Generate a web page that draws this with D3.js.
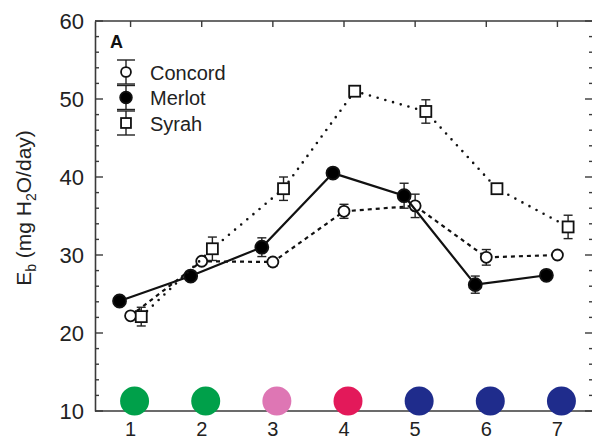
<!DOCTYPE html>
<html>
<head>
<meta charset="utf-8">
<script src="https://cdn.jsdelivr.net/npm/d3@7"></script>
<style>
  body { margin: 0; background: #fff; }
  svg { display: block; font-family: "Liberation Sans", Arial, Helvetica, sans-serif; }
</style>
</head>
<body>
<svg id="svg" width="592" height="441"></svg>
<script>
//Chart data
var stages = [1, 2, 3, 4, 5, 6, 7];
var stageColors = ["#00a04a", "#00a04a", "#de76b4", "#e3195a", "#1f2c8c", "#1f2c8c", "#1f2c8c"];
var yTicks = [10, 20, 30, 40, 50, 60];

var concord = [22.2, 29.2, 29.1, 35.6, 36.3, 29.7, 30.0];
var concordErr = [0.3, 0.4, 0.5, 0.9, 1.5, 1.0, 0.4];
var merlot = [24.1, 27.3, 31.0, 40.5, 37.6, 26.2, 27.4];
var merlotErr = [0.3, 0.3, 1.2, 0.3, 1.6, 1.1, 0.3];
var syrah = [22.1, 30.8, 38.5, 51.0, 48.4, 38.5, 33.6];
var syrahErr = [1.2, 1.5, 1.5, 0.6, 1.5, 0.4, 1.5];

var seriesNames = ["Concord", "Merlot", "Syrah"];

var series = [
  {name: seriesNames[0], values: concord, err: concordErr, dodge: 0, marker: "circle", fill: "#fff", dash: "4,4", cap: "butt"},
  {name: seriesNames[1], values: merlot, err: merlotErr, dodge: -0.155, marker: "dot", fill: "#000", dash: null, cap: "butt"},
  {name: seriesNames[2], values: syrah, err: syrahErr, dodge: 0.15, marker: "square", fill: "#fff", dash: "0,8", cap: "round"}
];

var svg = d3.select("#svg");
var x = d3.scaleLinear().domain([0.5, 7.5]).range([95, 593]);
var y = d3.scaleLinear().domain([10, 60]).range([411, 21]);
var axisColor = "#3a3a3a";

//Frame: left, bottom, top (right side falls off the canvas)
svg.append("g")
  .attr("transform", "translate(" + x(0.5) + ",0)")
  .call(d3.axisLeft(y).tickValues(yTicks).tickSize(0).tickPadding(11).tickFormat(d3.format("d")))
  .call(g => g.select(".domain").attr("stroke", axisColor).attr("stroke-width", 1.6))
  .call(g => g.selectAll("text").attr("font-size", 22).attr("fill", "#222").attr("font-family", null));

svg.append("line")
  .attr("x1", x(0.5)).attr("x2", x(7.5))
  .attr("y1", y(10)).attr("y2", y(10))
  .attr("stroke", axisColor).attr("stroke-width", 1.6);
svg.append("line")
  .attr("x1", x(0.5)).attr("x2", x(7.5))
  .attr("y1", y(60)).attr("y2", y(60))
  .attr("stroke", axisColor).attr("stroke-width", 1.6);

//Inward ticks on the left and right sides
var minorTicks = d3.range(10, 61, 2);
[x(0.5), x(7.5)].forEach(function(px, side) {
  var dir = side === 0 ? 1 : -1;
  svg.append("g").selectAll("line")
    .data(minorTicks)
    .join("line")
    .attr("x1", px)
    .attr("x2", d => px + dir * (d % 10 === 0 ? 8 : 4))
    .attr("y1", d => y(d)).attr("y2", d => y(d))
    .attr("stroke", axisColor).attr("stroke-width", 1.4);
});

//Top ticks
svg.append("g").selectAll("line")
  .data(stages)
  .join("line")
  .attr("x1", d => x(d)).attr("x2", d => x(d))
  .attr("y1", y(60)).attr("y2", y(60) + 6)
  .attr("stroke", axisColor).attr("stroke-width", 1.4);

//Bottom tick labels
svg.append("g").selectAll("text")
  .data(stages)
  .join("text")
  .attr("x", d => x(d))
  .attr("y", 436)
  .attr("text-anchor", "middle")
  .attr("font-size", 20)
  .attr("fill", "#222")
  .text(d => d);

//Stage colour dots
svg.append("g").selectAll("circle")
  .data(stages)
  .join("circle")
  .attr("cx", d => x(d) + 4)
  .attr("cy", 401)
  .attr("r", 14.5)
  .attr("fill", (d, i) => stageColors[i]);

//Y axis title
var title = svg.append("text")
  .attr("transform", "translate(31,208) rotate(-90)")
  .attr("text-anchor", "middle")
  .attr("font-size", 21)
  .attr("fill", "#222");
title.append("tspan").text("E");
title.append("tspan").attr("font-size", 14).attr("dy", 5).text("b");
title.append("tspan").attr("dy", -5).text(" (mg H");
title.append("tspan").attr("font-size", 14).attr("dy", 5).text("2");
title.append("tspan").attr("dy", -5).text("O/day)");

function drawMarker(g, s, cx, cy, scale) {
  if (s.marker === "square") {
    var h = 5.5 * scale;
    g.append("rect")
      .attr("x", cx - h).attr("y", cy - h)
      .attr("width", 2 * h).attr("height", 2 * h)
      .attr("fill", "#fff").attr("stroke", "#111").attr("stroke-width", 1.8);
  } else {
    g.append("circle")
      .attr("cx", cx).attr("cy", cy)
      .attr("r", (s.marker === "dot" ? 6.5 : 5.5) * scale)
      .attr("fill", s.fill).attr("stroke", "#111").attr("stroke-width", 1.8);
  }
}

function drawErrorBar(g, cx, y0, y1, half) {
  g.append("line").attr("x1", cx).attr("x2", cx).attr("y1", y0).attr("y2", y1)
    .attr("stroke", "#222").attr("stroke-width", 1.4);
  [y0, y1].forEach(function(yy) {
    g.append("line").attr("x1", cx - half).attr("x2", cx + half).attr("y1", yy).attr("y2", yy)
      .attr("stroke", "#222").attr("stroke-width", 1.4);
  });
}

//Series lines, error bars and markers
var line = d3.line()
  .x(d => x(d.stage + d.dodge))
  .y(d => y(d.value));

series.forEach(function(s) {
  var pts = s.values.map((v, i) => ({stage: stages[i], value: v, err: s.err[i], dodge: s.dodge}));
  var g = svg.append("g");
  g.append("path")
    .attr("d", line(pts))
    .attr("fill", "none")
    .attr("stroke", "#111")
    .attr("stroke-width", s.dash === "0,8" ? 2.6 : 2.2)
    .attr("stroke-dasharray", s.dash)
    .attr("stroke-linecap", s.cap);
  pts.forEach(function(p) {
    drawErrorBar(g, x(p.stage + p.dodge), y(p.value + p.err), y(p.value - p.err), 4.5);
  });
  pts.forEach(function(p) {
    drawMarker(g, s, x(p.stage + p.dodge), y(p.value), 1);
  });
});

//Panel letter
svg.append("text")
  .attr("x", 110).attr("y", 48)
  .attr("font-size", 18).attr("font-weight", "bold")
  .attr("fill", "#111")
  .text("A");

//Legend
var legend = svg.append("g");
series.forEach(function(s, i) {
  var cy = 72 + i * 25.5;
  drawErrorBar(legend, 126, cy - 12, cy + 12, 9);
  drawMarker(legend, s, 126, cy, 0.9);
  legend.append("text")
    .attr("x", 150).attr("y", cy + 7.5)
    .attr("font-size", 20)
    .attr("fill", "#222")
    .text(s.name);
});
</script>
</body>
</html>
